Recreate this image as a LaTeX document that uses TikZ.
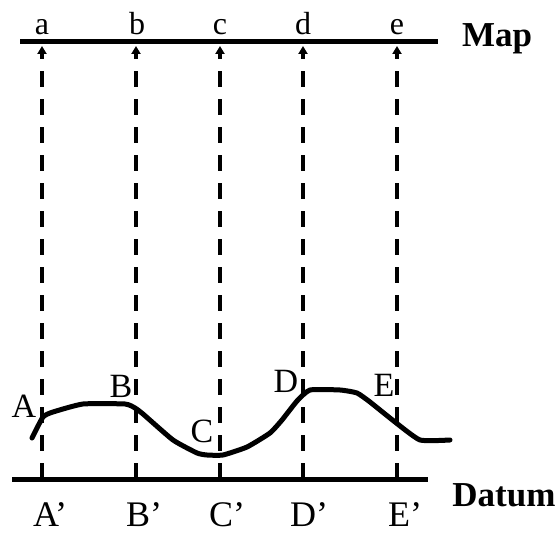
\documentclass[tikz,border=0pt]{standalone}
\usepackage{fontspec}
\setmainfont{Liberation Serif}
\usetikzlibrary{arrows.meta}
\tikzset{
  base/.style={line width=5pt},
  proj/.style={line width=4pt, dash pattern=on 16pt off 12pt, -{Triangle[length=8pt,width=9pt]}},
  ground/.style={line width=5pt, line join=round, line cap=round},
  top/.style={anchor=base, font=\fontsize{32}{34}\selectfont, inner sep=0pt},
  pt/.style={anchor=base, font=\fontsize{34}{36}\selectfont, inner sep=0pt},
  prm/.style={anchor=base, font=\fontsize{36}{38}\selectfont, inner sep=0pt, text depth=0pt},
  ttl/.style={anchor=base, font=\fontsize{35}{37}\selectfont\bfseries, inner sep=0pt}
}
\begin{document}
\begin{tikzpicture}[x=1pt,y=-1pt]
\useasboundingbox (0,0) rectangle (560,534);
% map and datum lines
\coordinate (m1) at (20,42);
\coordinate (m2) at (438,42);
\coordinate (d1) at (12,480);
\coordinate (d2) at (428,480);
\draw[base] (m1) -- (m2);
\draw[base] (d1) -- (d2);
% projection lines
\foreach \n/\x in {A/42,B/136,C/220,D/303,E/397}{
  \coordinate (top\n) at (\x,46);
  \coordinate (bot\n) at (\x,479);
  \draw[proj] (bot\n) -- (top\n);
}
% terrain
\draw[ground] plot[smooth, tension=0.3] coordinates {
 (32,438) (43,417) (53,412) (83,404) (125,404) (135,408) (143,414)
 (173,440) (197,453) (207,455) (223,455) (247,447) (270,433) (282,420)
 (297,401) (310,390) (340,390) (357,393) (370,402) (395,422) (420,440) (450,440)};
% labels
\node[top] (la) at (42,35) {a};
\node[top] (lb) at (137,35) {b};
\node[top] (lc) at (220,35) {c};
\node[top] (ld) at (303,35) {d};
\node[top] (le) at (397,35) {e};
\node[ttl] (map) at (497,47) {Map};
\node[ttl] (datum) at (504,507) {Datum};
\node[pt] (pA) at (24,418) {A};
\node[pt] (pB) at (121,398) {B};
\node[pt] (pC) at (202,443) {C};
\node[pt] (pD) at (286,393) {D};
\node[pt] (pE) at (384,397) {E};
\node[prm] (qA) at (50,527) {A’};
\node[prm] (qB) at (144,527) {B’};
\node[prm] (qC) at (227,527) {C’};
\node[prm] (qD) at (309,527) {D’};
\node[prm] (qE) at (405,527) {E’};
\end{tikzpicture}
\end{document}
